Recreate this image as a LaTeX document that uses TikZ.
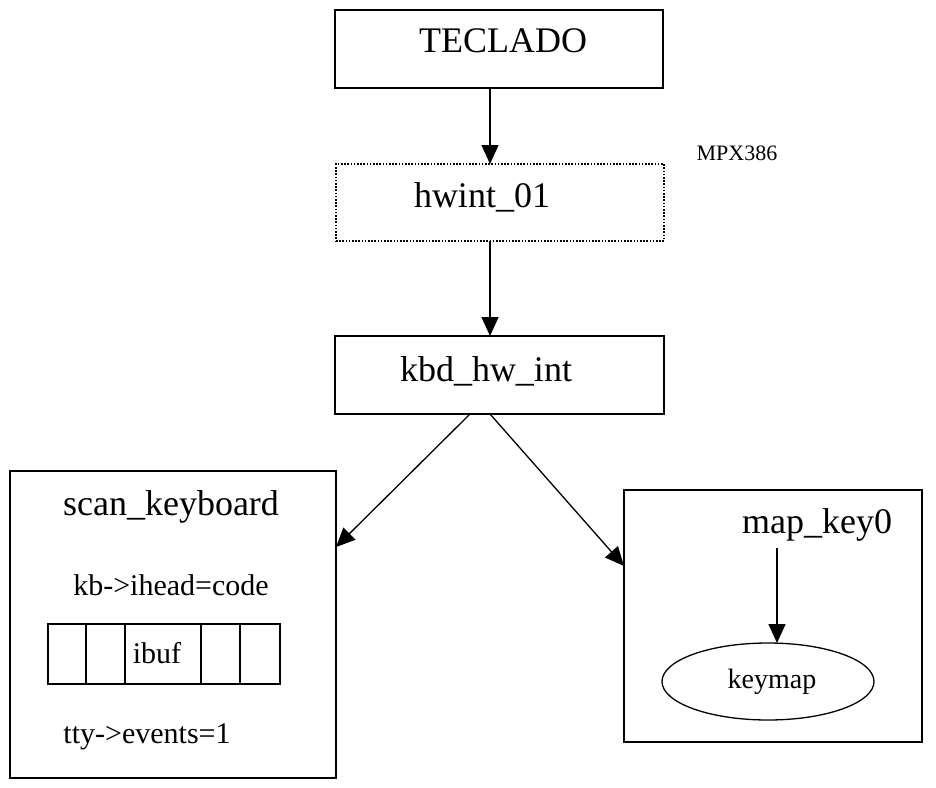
\documentclass[tikz,border=0pt]{standalone}
\usepackage{fontspec}
\setmainfont{Liberation Serif}
\usetikzlibrary{arrows.meta,shapes.geometric}

\tikzset{
  box/.style={draw, line width=1.3pt, inner sep=0pt, outer sep=0pt},
  dotbox/.style={box, dash pattern=on 1.6pt off 1.6pt},
  cell/.style={draw, line width=1.3pt, inner sep=0pt, outer sep=0pt, minimum height=60pt},
  big/.style={font=\fontsize{36}{40}\selectfont, anchor=base, inner sep=0pt},
  mid/.style={font=\fontsize{30}{34}\selectfont, anchor=base, inner sep=0pt},
  small/.style={font=\fontsize{28}{32}\selectfont, anchor=base, inner sep=0pt},
  flow/.style={line width=1.3pt, -{Triangle[length=19pt,width=17pt]}}
}

\begin{document}
\begin{tikzpicture}[x=1pt,y=-1pt]
  \useasboundingbox (0,0) rectangle (936,787);

  % top chain
  \node[box, minimum width=328pt, minimum height=78pt] (TEC) at (499,49) {};
  \node[big] (TECt) at (503,52) {TECLADO};

  \node[dotbox, minimum width=328pt, minimum height=77pt] (HW) at (500,202.5) {};
  \node[big] (HWt) at (482,207) {hwint\_01};
  \node[font=\fontsize{22}{26}\selectfont, anchor=base, inner sep=0pt] (MPX) at (737,160) {MPX386};

  \node[box, minimum width=329pt, minimum height=78pt] (KBD) at (499.5,375) {};
  \node[big] (KBDt) at (486,381) {kbd\_hw\_int};

  \draw[flow] ([xshift=-9pt]TEC.south) -- ([xshift=-10pt]HW.north);
  \draw[flow] ([xshift=-10pt]HW.south) -- ([xshift=-9.5pt]KBD.north);

  % scan_keyboard
  \node[box, minimum width=326pt, minimum height=307pt] (SCAN) at (173,624.5) {};
  \node[big] (SCANt) at (171,515) {scan\_keyboard};
  \node[mid] (IHEAD) at (171,595) {kb->ihead=code};
  \foreach \l/\r [count=\i] in {48/86,86/125,125/201,201/240,240/280}
    \node[cell, minimum width={(\r-\l)*1pt}] (buf\i) at ({(\l+\r)/2},654) {};
  \node[mid] (IBUF) at (157,663) {ibuf};
  \node[mid] (EVENTS) at (147,743) {tty->events=1};

  % map_key0
  \node[box, minimum width=298pt, minimum height=252pt] (MAP) at (773,616) {};
  \node[big] (MAPt) at (817,533) {map\_key0};
  \node[ellipse, draw, line width=1.3pt, inner sep=0pt, outer sep=0pt,
        minimum width=212pt, minimum height=77pt] (KEYMAP) at (768,681.5) {};
  \node[small] (KEYMAPt) at (772,688) {keymap};
  \coordinate (mapout) at (777,548);
  \draw[flow] (mapout) -- ([xshift=9pt]KEYMAP.north);

  % fan out from kbd_hw_int
  \draw[flow] ([xshift=-29.5pt]KBD.south) -- ([yshift=77.5pt]SCAN.east);
  \draw[flow] ([xshift=-9.5pt]KBD.south) -- ([yshift=50pt]MAP.west);
\end{tikzpicture}
\end{document}
